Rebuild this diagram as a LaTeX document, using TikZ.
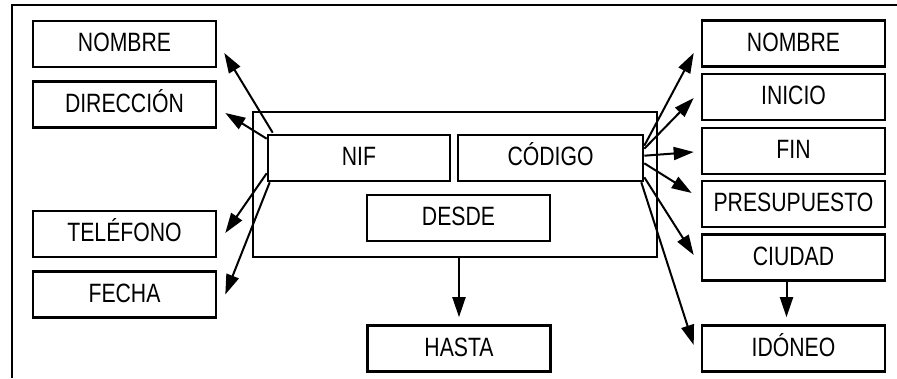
\documentclass[tikz,border=0pt]{standalone}
\usepackage{fontspec}
\setmainfont{Liberation Sans}[FakeStretch=0.8]
\usetikzlibrary{arrows.meta,calc}
\begin{document}
\begin{tikzpicture}[x=1pt,y=-1pt,
  box/.style={draw,line width=2.6pt,minimum height=46pt,inner sep=0pt,
    font=\fontsize{26.5}{28}\selectfont,text height=19pt,text depth=4pt},
  wbox/.style={box,minimum width=183pt},
  arr/.style={line width=2pt,-{Triangle[length=20pt,width=13pt]}},
  frame/.style={line width=2pt}]
\useasboundingbox (0,0) rectangle (897,378);
\draw[frame] (12,378) -- (12,5) -- (897,5);
% left column
\node[wbox] (lnombre) at (124.5,44) {NOMBRE};
\node[wbox] (ldir) at (124.5,104.5) {DIRECCIÓN};
\node[wbox] (ltel) at (124.5,234) {TELÉFONO};
\node[wbox] (lfecha) at (124.5,294.5) {FECHA};
% container
\node[draw,line width=2.6pt,minimum width=404pt,minimum height=145pt,inner sep=0pt] (container) at (455,184.5) {};
\node[wbox,minimum width=182pt] (nif) at (359,158) {NIF};
\node[wbox,minimum width=185pt] (codigo) at (550.5,158) {CÓDIGO};
\node[wbox] (desde) at (458.5,218) {DESDE};
\node[wbox] (hasta) at (459,348.5) {HASTA};
% right column
\node[wbox] (rnombre) at (793.5,43.5) {NOMBRE};
\node[wbox] (rinicio) at (793.5,97) {INICIO};
\node[wbox] (rfin) at (793.5,151) {FIN};
\node[wbox] (rpres) at (793.5,204) {PRESUPUESTO};
\node[wbox] (rciudad) at (793.5,257.5) {CIUDAD};
\node[wbox] (ridoneo) at (793.5,348.5) {IDÓNEO};
% arrows from NIF
\draw[arr] ([xshift=6pt,yshift=1pt]nif.north west) -- ([xshift=7pt,yshift=-9pt]lnombre.east);
\draw[arr] ([yshift=-5pt]nif.north west) -- ([xshift=8pt,yshift=-8.5pt]ldir.east);
\draw[arr] ([yshift=9pt]nif.south west) -- ([xshift=8pt,yshift=1pt]ltel.east);
\draw[arr] ([xshift=3pt]nif.south west) -- ([xshift=8pt]lfecha.east);
% arrows from CÓDIGO
\draw[arr] ([yshift=-12pt]codigo.north east) -- ([xshift=-7pt,yshift=-9.5pt]rnombre.west);
\draw[arr] ([yshift=-15pt]codigo.north east) -- ([xshift=-7pt,yshift=-1pt]rinicio.west);
\draw[arr] ([yshift=-22pt]codigo.north east) -- ([xshift=-7pt,yshift=-1pt]rfin.west);
\draw[arr] ([yshift=19pt]codigo.south east) -- ([xshift=-9pt,yshift=11pt]rpres.west);
\draw[arr] ([yshift=5pt]codigo.south east) -- ([xshift=-7pt,yshift=2.5pt]rciudad.west);
\draw[arr] ([xshift=-3pt]codigo.south east) -- ([xshift=-7pt,yshift=3.5pt]ridoneo.west);
% vertical arrows
\draw[arr,shorten >=7pt] (container.south -| hasta.north) -- (hasta.north);
\draw[arr,shorten >=7pt] ([xshift=-7pt]rciudad.south) -- ([xshift=-7pt]ridoneo.north);
\end{tikzpicture}
\end{document}
